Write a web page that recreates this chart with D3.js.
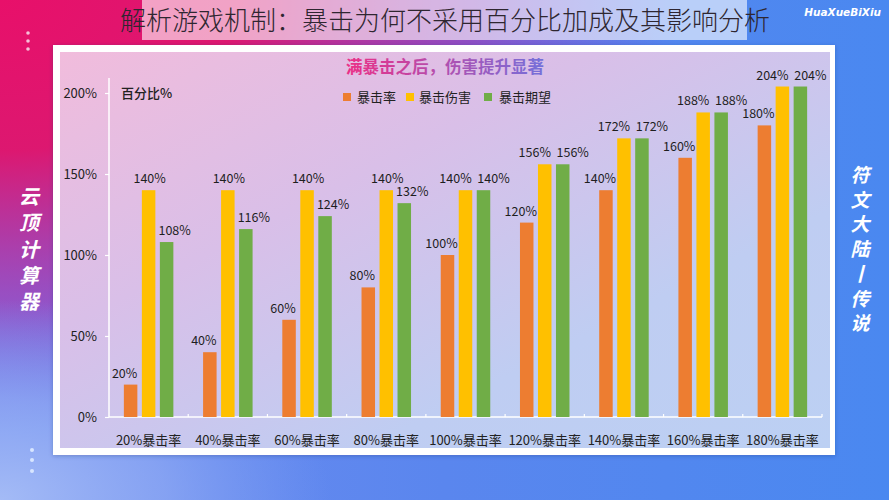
<!DOCTYPE html>
<html><head><meta charset="utf-8">
<script src="https://cdn.jsdelivr.net/npm/d3@7/dist/d3.min.js"></script>
<style>
html,body{margin:0;padding:0;background:#fff;}
svg{display:block;}
text{font-family:"Noto Sans CJK SC","Noto Sans",sans-serif;}
</style></head>
<body>
<svg id="c" width="889" height="500"></svg>
<script>
// ---- data ----
const title = "解析游戏机制：暴击为何不采用百分比加成及其影响分析";
const subtitle = "满暴击之后，伤害提升显著";
const categories = ["20%暴击率","40%暴击率","60%暴击率","80%暴击率","100%暴击率","120%暴击率","140%暴击率","160%暴击率","180%暴击率"];
const seriesNames = ["暴击率","暴击伤害","暴击期望"];
const critRate   = [20,40,60,80,100,120,140,160,180];
const critDamage = [140,140,140,140,140,156,172,188,204];
const critExpect = [108,116,124,132,140,156,172,188,204];
const yTicks = [0,50,100,150,200];
const yAxisTitle = "百分比%";
const leftSide = ["云","顶","计","算","器"];
const rightSide = ["符","文","大","陆","丨","传","说"];
const brand = "HuaXueBiXiu";

const seriesValues = [critRate, critDamage, critExpect];
const colors = ["#ed7d31","#ffc000","#70ad47"];

const svg = d3.select("#c");
const defs = svg.append("defs");

// background gradients
const bg = defs.append("linearGradient").attr("id","bg").attr("x1",0).attr("y1",0).attr("x2",1).attr("y2",0);
[[0,"#6f8cf0"],[0.5,"#5a86ee"],[1,"#4a88f0"]].forEach(s=>bg.append("stop").attr("offset",s[0]).attr("stop-color",s[1]));
const tl = defs.append("radialGradient").attr("id","tl").attr("gradientUnits","userSpaceOnUse")
  .attr("cx",0).attr("cy",0).attr("r",1).attr("gradientTransform","scale(680,430)");
tl.append("stop").attr("offset",0).attr("stop-color","#e8106a").attr("stop-opacity",1);
tl.append("stop").attr("offset",0.35).attr("stop-color","#e0146c").attr("stop-opacity",0.97);
tl.append("stop").attr("offset",0.7).attr("stop-color","#b02aa8").attr("stop-opacity",0.6);
tl.append("stop").attr("offset",1).attr("stop-color","#8a40d0").attr("stop-opacity",0);
const bl = defs.append("radialGradient").attr("id","bl").attr("gradientUnits","userSpaceOnUse")
  .attr("cx",0).attr("cy",500).attr("r",1).attr("gradientTransform","translate(0,500) scale(330,200) translate(0,-500)");
bl.append("stop").attr("offset",0).attr("stop-color","#a4bbf6").attr("stop-opacity",1);
bl.append("stop").attr("offset",0.5).attr("stop-color","#92acf4").attr("stop-opacity",0.7);
bl.append("stop").attr("offset",1).attr("stop-color","#80a0f2").attr("stop-opacity",0);

const panel = defs.append("linearGradient").attr("id","panel").attr("x1",0).attr("y1",0).attr("x2",1).attr("y2",1);
[[0,"#f1bcdc"],[0.35,"#d9bfe8"],[0.7,"#bfcdf2"],[1,"#bcd0f3"]].forEach(s=>panel.append("stop").attr("offset",s[0]).attr("stop-color",s[1]));

const subG = defs.append("linearGradient").attr("id","subG").attr("gradientUnits","userSpaceOnUse")
  .attr("x1",345).attr("y1",0).attr("x2",545).attr("y2",0);
subG.append("stop").attr("offset",0).attr("stop-color","#ec2f86");
subG.append("stop").attr("offset",1).attr("stop-color","#7470da");

const sh = defs.append("filter").attr("id","sh").attr("x","-5%").attr("y","-5%").attr("width","110%").attr("height","110%");
sh.append("feDropShadow").attr("dx",0).attr("dy",1).attr("stdDeviation",2).attr("flood-color","#203070").attr("flood-opacity",0.3);

svg.append("rect").attr("width",889).attr("height",500).attr("fill","url(#bg)");
svg.append("rect").attr("width",889).attr("height",500).attr("fill","url(#tl)");
svg.append("rect").attr("width",889).attr("height",500).attr("fill","url(#bl)");

// title band + title
svg.append("rect").attr("x",142).attr("y",0).attr("width",605).attr("height",40).attr("fill","#ffffff").attr("opacity",0.6);
svg.append("text").attr("x",445).attr("y",30).attr("text-anchor","middle")
  .attr("font-size",26).attr("fill","#2e2630").attr("font-weight",300).text(title);

// brand
svg.append("text").attr("x",881).attr("y",16).attr("text-anchor","end")
  .attr("font-size",10.5).attr("font-weight","bold").attr("font-style","italic")
  .attr("fill","#ffffff").style("font-family","'DejaVu Sans',sans-serif").text(brand);

// dots
[33,41,49].forEach(y=>svg.append("circle").attr("cx",28).attr("cy",y).attr("r",1.8).attr("fill","#f6c0d8"));
[450,460,471].forEach(y=>svg.append("circle").attr("cx",32).attr("cy",y).attr("r",2).attr("fill","#d8e6ff"));

// side texts
leftSide.forEach((ch,i)=>svg.append("text").attr("x",29).attr("y",204+i*26.3).attr("text-anchor","middle")
  .attr("font-size",20).attr("font-weight","bold").attr("font-style","italic").attr("fill","#ffffff").text(ch));
rightSide.forEach((ch,i)=>svg.append("text").attr("x",860).attr("y",182+i*24.7).attr("text-anchor","middle")
  .attr("font-size",19).attr("font-weight","bold").attr("font-style","italic").attr("fill","#ffffff").text(ch));

// card
svg.append("rect").attr("x",53).attr("y",45).attr("width",782).attr("height",410).attr("fill","#ffffff").attr("filter","url(#sh)");
svg.append("rect").attr("x",60).attr("y",52).attr("width",770).attr("height",396).attr("fill","url(#panel)");

// scales
const x0 = d3.scaleBand().domain(categories).range([109,822]).padding(0);
const x1 = d3.scaleBand().domain(d3.range(seriesNames.length)).range([0,49.5]).paddingInner(0.25).paddingOuter(0);
const y = d3.scaleLinear().domain([0,200]).range([417,93]);

// subtitle
svg.append("text").attr("x",445).attr("y",73).attr("text-anchor","middle")
  .attr("font-size",16.5).attr("font-weight","bold").attr("fill","url(#subG)").text(subtitle);

// legend
const legX = [[343,357],[406,419],[484,499]];
seriesNames.forEach((n,i)=>{
  svg.append("rect").attr("x",legX[i][0]).attr("y",93).attr("width",8).attr("height",8).attr("fill",colors[i]);
  svg.append("text").attr("x",legX[i][1]).attr("y",101.5).attr("font-size",13).attr("fill","#222").text(n);
});

// y axis
const yAxis = d3.axisLeft(y).tickValues(yTicks).tickFormat(d=>d+"%").tickSize(4).tickPadding(8);
const ga = svg.append("g").attr("transform","translate(109,0)").call(yAxis);
ga.select(".domain").remove();
ga.selectAll(".tick line").attr("stroke","#ffffff").attr("stroke-width",1.2);
ga.selectAll(".tick text").attr("font-size",13).attr("fill","#222").style("font-family","'Noto Sans CJK SC',sans-serif");
svg.append("line").attr("x1",109).attr("x2",109).attr("y1",78).attr("y2",y(0)).attr("stroke","#ffffff").attr("stroke-width",1.5);
svg.append("text").attr("x",121).attr("y",98).attr("font-size",13).attr("font-weight",500).attr("fill","#222").text(yAxisTitle);

// x axis
const xAxis = d3.axisBottom(x0).tickSize(0).tickPadding(19);
const gx = svg.append("g").attr("transform",`translate(0,${y(0)})`).call(xAxis);
gx.select(".domain").remove();
gx.selectAll(".tick text").attr("font-size",13).attr("fill","#222").style("font-family","'Noto Sans CJK SC',sans-serif");
svg.append("line").attr("x1",109).attr("x2",822).attr("y1",y(0)).attr("y2",y(0)).attr("stroke","#ffffff").attr("stroke-width",1.5);
categories.forEach(c=>{
  const bx = x0(c)+x0.bandwidth();
  svg.append("line").attr("x1",bx).attr("x2",bx).attr("y1",y(0)).attr("y2",y(0)-3).attr("stroke","#ffffff").attr("stroke-width",1.2);
});

// bars
const groups = svg.append("g").selectAll("g").data(categories).join("g")
  .attr("transform",c=>`translate(${x0(c)+x0.bandwidth()/2-24.75},0)`);
groups.each(function(c,ci){
  const g = d3.select(this);
  seriesValues.forEach((vals,si)=>{
    const v = vals[ci];
    g.append("rect").attr("x",x1(si)).attr("y",y(v)).attr("width",x1.bandwidth()).attr("height",y(0)-y(v)).attr("fill",colors[si]);
    const same = critDamage[ci]===critExpect[ci];
    const off = si===0 ? -6 : (si===1 ? (same?-10:1) : (same?10:8));
    g.append("text").attr("x",x1(si)+x1.bandwidth()/2+off).attr("y",y(v)-7).attr("text-anchor","middle")
      .attr("font-size",12.5).attr("fill","#1e1e1e").text(v+"%");
  });
});
</script>
</body></html>
